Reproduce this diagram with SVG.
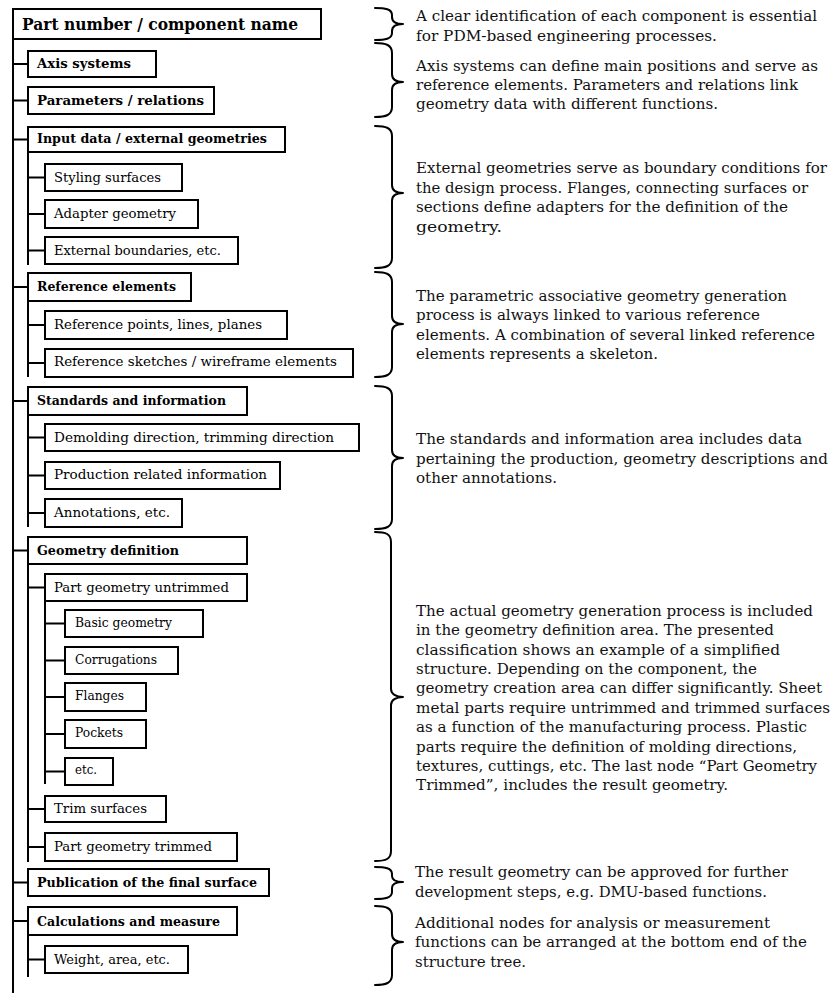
<svg xmlns="http://www.w3.org/2000/svg" width="832" height="995" viewBox="0 0 832 995">
  <style>
    .box { fill: #ffffff; stroke: #000000; stroke-width: 2; }
    .wire { fill: none; stroke: #000000; stroke-width: 2; }
    .brace { fill: none; stroke: #000000; stroke-width: 2; stroke-linejoin: round; stroke-linecap: round; }
    text { font-family: "DejaVu Serif", "Liberation Serif", serif; fill: #000000; }
    .root { font-size: 16.5px; font-weight: bold; }
    .l1 { font-size: 12.8px; font-weight: bold; }
    .l2 { font-size: 12.8px; }
    .l3 { font-size: 12.2px; }
    .desc { font-size: 14.6px; fill: #111111; }
  </style>

  <rect width="832" height="995" fill="#ffffff"/>

  <!-- tree connectors -->
  <g id="connectors">
    <!-- trunk -->
    <path class="wire" d="M13,39 V993"/>
    <!-- first level ties -->
    <path class="wire" d="M13,64 H28 M13,100.5 H28 M13,139.5 H28 M13,287 H28 M13,401 H28 M13,550.5 H28 M13,882.5 H28 M13,921 H28"/>
    <!-- second level stems -->
    <path class="wire" d="M28,152 V265 M28,301 V377 M28,415 V527 M28,564 V862 M28,935 V977"/>
    <!-- second level ties -->
    <path class="wire" d="M28,177.5 H45 M28,214 H45 M28,250.5 H45 M28,325 H45 M28,363 H45 M28,437.5 H45 M28,475.5 H45 M28,513 H45 M28,587.5 H45 M28,809 H45 M28,847 H45 M28,959.5 H45"/>
    <!-- third level stem and ties -->
    <path class="wire" d="M45,601 V784"/>
    <path class="wire" d="M45,623.5 H65 M45,660.5 H65 M45,697 H65 M45,734 H65 M45,771.5 H65"/>
  </g>

  <!-- nodes -->
  <g id="n-root">
    <rect class="box" x="13" y="9" width="308" height="30"/>
    <text class="root" x="22" y="30" textLength="276" lengthAdjust="spacingAndGlyphs">Part number / component name</text>
  </g>
  <g id="n-axis">
    <rect class="box" x="28" y="51" width="128" height="26"/>
    <text class="l1" x="37" y="68" textLength="94" lengthAdjust="spacingAndGlyphs">Axis systems</text>
  </g>
  <g id="n-parameters">
    <rect class="box" x="28" y="87" width="186" height="27"/>
    <text class="l1" x="37" y="105" textLength="167" lengthAdjust="spacingAndGlyphs">Parameters / relations</text>
  </g>
  <g id="n-input">
    <rect class="box" x="28" y="127" width="257" height="25"/>
    <text class="l1" x="37" y="143" textLength="230" lengthAdjust="spacingAndGlyphs">Input data / external geometries</text>
  </g>
  <g id="n-styling">
    <rect class="box" x="45" y="164" width="137" height="27"/>
    <text class="l2" x="54" y="182" textLength="107" lengthAdjust="spacingAndGlyphs">Styling surfaces</text>
  </g>
  <g id="n-adapter">
    <rect class="box" x="45" y="200" width="153" height="28"/>
    <text class="l2" x="54" y="218" textLength="122" lengthAdjust="spacingAndGlyphs">Adapter geometry</text>
  </g>
  <g id="n-boundaries">
    <rect class="box" x="45" y="237" width="193" height="27"/>
    <text class="l2" x="54" y="255" textLength="167" lengthAdjust="spacingAndGlyphs">External boundaries, etc.</text>
  </g>
  <g id="n-reference">
    <rect class="box" x="28" y="273" width="163" height="28"/>
    <text class="l1" x="37" y="291" textLength="139" lengthAdjust="spacingAndGlyphs">Reference elements</text>
  </g>
  <g id="n-ref-points">
    <rect class="box" x="45" y="311" width="242" height="28"/>
    <text class="l2" x="54" y="329" textLength="208" lengthAdjust="spacingAndGlyphs">Reference points, lines, planes</text>
  </g>
  <g id="n-ref-sketches">
    <rect class="box" x="45" y="349" width="308" height="28"/>
    <text class="l2" x="54" y="366" textLength="283" lengthAdjust="spacingAndGlyphs">Reference sketches / wireframe elements</text>
  </g>
  <g id="n-standards">
    <rect class="box" x="28" y="387" width="219" height="28"/>
    <text class="l1" x="37" y="405" textLength="189" lengthAdjust="spacingAndGlyphs">Standards and information</text>
  </g>
  <g id="n-demolding">
    <rect class="box" x="45" y="424" width="314" height="27"/>
    <text class="l2" x="54" y="442" textLength="280" lengthAdjust="spacingAndGlyphs">Demolding direction, trimming direction</text>
  </g>
  <g id="n-production">
    <rect class="box" x="45" y="462" width="235" height="27"/>
    <text class="l2" x="54" y="479" textLength="213" lengthAdjust="spacingAndGlyphs">Production related information</text>
  </g>
  <g id="n-annotations">
    <rect class="box" x="45" y="499" width="137" height="28"/>
    <text class="l2" x="54" y="517" textLength="116" lengthAdjust="spacingAndGlyphs">Annotations, etc.</text>
  </g>
  <g id="n-geometry">
    <rect class="box" x="28" y="537" width="219" height="27"/>
    <text class="l1" x="37" y="555" textLength="142" lengthAdjust="spacingAndGlyphs">Geometry definition</text>
  </g>
  <g id="n-untrimmed">
    <rect class="box" x="45" y="574" width="202" height="27"/>
    <text class="l2" x="54" y="592" textLength="175" lengthAdjust="spacingAndGlyphs">Part geometry untrimmed</text>
  </g>
  <g id="n-basic">
    <rect class="box" x="65" y="610" width="138" height="27"/>
    <text class="l3" x="75" y="627" textLength="97" lengthAdjust="spacingAndGlyphs">Basic geometry</text>
  </g>
  <g id="n-corrugations">
    <rect class="box" x="65" y="647" width="113" height="27"/>
    <text class="l3" x="75" y="664" textLength="82" lengthAdjust="spacingAndGlyphs">Corrugations</text>
  </g>
  <g id="n-flanges">
    <rect class="box" x="65" y="683" width="81" height="28"/>
    <text class="l3" x="75" y="700" textLength="49" lengthAdjust="spacingAndGlyphs">Flanges</text>
  </g>
  <g id="n-pockets">
    <rect class="box" x="65" y="720" width="81" height="28"/>
    <text class="l3" x="75" y="737" textLength="48" lengthAdjust="spacingAndGlyphs">Pockets</text>
  </g>
  <g id="n-etc">
    <rect class="box" x="65" y="758" width="48" height="27"/>
    <text class="l3" x="75" y="774" textLength="22" lengthAdjust="spacingAndGlyphs">etc.</text>
  </g>
  <g id="n-trim">
    <rect class="box" x="45" y="796" width="121" height="26"/>
    <text class="l2" x="54" y="813" textLength="93" lengthAdjust="spacingAndGlyphs">Trim surfaces</text>
  </g>
  <g id="n-trimmed">
    <rect class="box" x="45" y="833" width="192" height="28"/>
    <text class="l2" x="54" y="851" textLength="158" lengthAdjust="spacingAndGlyphs">Part geometry trimmed</text>
  </g>
  <g id="n-publication">
    <rect class="box" x="28" y="869" width="241" height="27"/>
    <text class="l1" x="37" y="887" textLength="220" lengthAdjust="spacingAndGlyphs">Publication of the final surface</text>
  </g>
  <g id="n-calculations">
    <rect class="box" x="28" y="907" width="209" height="28"/>
    <text class="l1" x="37" y="926" textLength="183" lengthAdjust="spacingAndGlyphs">Calculations and measure</text>
  </g>
  <g id="n-weight">
    <rect class="box" x="45" y="946" width="143" height="27"/>
    <text class="l2" x="54" y="964" textLength="116" lengthAdjust="spacingAndGlyphs">Weight, area, etc.</text>
  </g>

  <!-- curly braces grouping the tree sections -->
  <g id="braces">
    <path class="brace" d="M375,8 C385,8 392,9 392,15 L392,17 C392,22 396,24 403,24 C396,24 392,26 392,31 L392,33 C392,39 385,40 375,40"/>
    <path class="brace" d="M375,43 C386,43 392,45 392,53 L392,74 C392,79 396,82 403,82 C396,82 392,85 392,90 L392,107 C392,115 386,117 375,117"/>
    <path class="brace" d="M375,126 C386,126 392,128 392,136 L392,185 C392,190 396,193 403,193 C396,193 392,196 392,201 L392,258 C392,266 386,268 375,268"/>
    <path class="brace" d="M375,272 C386,272 392,274 392,282 L392,316 C392,321 396,324 403,324 C396,324 392,327 392,332 L392,367 C392,375 386,377 375,377"/>
    <path class="brace" d="M375,386 C386,386 392,388 392,396 L392,450 C392,455 396,458 403,458 C396,458 392,461 392,466 L392,519 C392,527 386,529 375,529"/>
    <path class="brace" d="M375,532 C386,532 391,534 391,542 L391,689 C391,694 396,697 403,697 C396,697 391,700 391,705 L391,851 C391,859 386,861 375,861"/>
    <path class="brace" d="M375,867 C385,867 392,868 392,874 L392,876 C392,880 396,882 403,882 C396,882 392,884 392,888 L392,892 C392,898 385,899 375,899"/>
    <path class="brace" d="M375,906 C386,906 392,908 392,916 L392,934 C392,939 396,942 403,942 C396,942 392,945 392,950 L392,975 C392,983 386,985 375,985"/>
  </g>

  <!-- section descriptions -->
  <g id="d-root">
    <text class="desc" x="416" y="21" textLength="401" lengthAdjust="spacingAndGlyphs">A clear identification of each component is essential</text>
    <text class="desc" x="416" y="41" textLength="301" lengthAdjust="spacingAndGlyphs">for PDM-based engineering processes.</text>
  </g>
  <g id="d-axis">
    <text class="desc" x="416" y="71" textLength="402" lengthAdjust="spacingAndGlyphs">Axis systems can define main positions and serve as</text>
    <text class="desc" x="416" y="90" textLength="382" lengthAdjust="spacingAndGlyphs">reference elements. Parameters and relations link</text>
    <text class="desc" x="416" y="109" textLength="302" lengthAdjust="spacingAndGlyphs">geometry data with different functions.</text>
  </g>
  <g id="d-input">
    <text class="desc" x="416" y="173" textLength="411" lengthAdjust="spacingAndGlyphs">External geometries serve as boundary conditions for</text>
    <text class="desc" x="416" y="192.5" textLength="392" lengthAdjust="spacingAndGlyphs">the design process. Flanges, connecting surfaces or</text>
    <text class="desc" x="416" y="212" textLength="372" lengthAdjust="spacingAndGlyphs">sections define adapters for the definition of the</text>
    <text class="desc" x="416" y="231.5" textLength="86" lengthAdjust="spacingAndGlyphs">geometry.</text>
  </g>
  <g id="d-reference">
    <text class="desc" x="416" y="301" textLength="371" lengthAdjust="spacingAndGlyphs">The parametric associative geometry generation</text>
    <text class="desc" x="416" y="320" textLength="344" lengthAdjust="spacingAndGlyphs">process is always linked to various reference</text>
    <text class="desc" x="416" y="340" textLength="399" lengthAdjust="spacingAndGlyphs">elements. A combination of several linked reference</text>
    <text class="desc" x="416" y="359" textLength="242" lengthAdjust="spacingAndGlyphs">elements represents a skeleton.</text>
  </g>
  <g id="d-standards">
    <text class="desc" x="416" y="444" textLength="386" lengthAdjust="spacingAndGlyphs">The standards and information area includes data</text>
    <text class="desc" x="416" y="464" textLength="412" lengthAdjust="spacingAndGlyphs">pertaining the production, geometry descriptions and</text>
    <text class="desc" x="416" y="483" textLength="141" lengthAdjust="spacingAndGlyphs">other annotations.</text>
  </g>
  <g id="d-geometry">
    <text class="desc" x="416" y="616" textLength="397" lengthAdjust="spacingAndGlyphs">The actual geometry generation process is included</text>
    <text class="desc" x="416" y="635.4" textLength="358" lengthAdjust="spacingAndGlyphs">in the geometry definition area. The presented</text>
    <text class="desc" x="416" y="654.7" textLength="364" lengthAdjust="spacingAndGlyphs">classification shows an example of a simplified</text>
    <text class="desc" x="416" y="674" textLength="341" lengthAdjust="spacingAndGlyphs">structure. Depending on the component, the</text>
    <text class="desc" x="416" y="693.4" textLength="406" lengthAdjust="spacingAndGlyphs">geometry creation area can differ significantly. Sheet</text>
    <text class="desc" x="416" y="712.8" textLength="414" lengthAdjust="spacingAndGlyphs">metal parts require untrimmed and trimmed surfaces</text>
    <text class="desc" x="416" y="732.1" textLength="391" lengthAdjust="spacingAndGlyphs">as a function of the manufacturing process. Plastic</text>
    <text class="desc" x="416" y="751.5" textLength="381" lengthAdjust="spacingAndGlyphs">parts require the definition of molding directions,</text>
    <text class="desc" x="416" y="770.8" textLength="401" lengthAdjust="spacingAndGlyphs">textures, cuttings, etc. The last node “Part Geometry</text>
    <text class="desc" x="416" y="790.2" textLength="312" lengthAdjust="spacingAndGlyphs">Trimmed”, includes the result geometry.</text>
  </g>
  <g id="d-publication">
    <text class="desc" x="415" y="877" textLength="373" lengthAdjust="spacingAndGlyphs">The result geometry can be approved for further</text>
    <text class="desc" x="415" y="897" textLength="352" lengthAdjust="spacingAndGlyphs">development steps, e.g. DMU-based functions.</text>
  </g>
  <g id="d-calculations">
    <text class="desc" x="415" y="928" textLength="355" lengthAdjust="spacingAndGlyphs">Additional nodes for analysis or measurement</text>
    <text class="desc" x="415" y="947" textLength="392" lengthAdjust="spacingAndGlyphs">functions can be arranged at the bottom end of the</text>
    <text class="desc" x="415" y="966.5" textLength="111" lengthAdjust="spacingAndGlyphs">structure tree.</text>
  </g>
</svg>
